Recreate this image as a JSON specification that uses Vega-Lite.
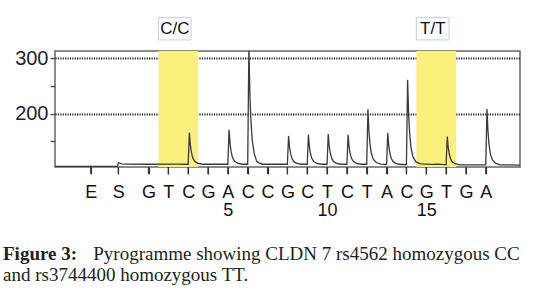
{
  "$schema": "https://vega.github.io/schema/vega-lite/v6.json",
  "autosize": {"type": "none"},
  "width": 465,
  "height": 116,
  "padding": {"left": 55, "top": 51, "right": 24, "bottom": 129},
  "background": "white",
  "config": {
    "view": {"stroke": "#666666", "strokeWidth": 1.5},
    "axis": {"domain": false, "labelOverlap": false, "labelFlush": false, "tickCount": 100},
    "axisX": {"grid": false, "ticks": true, "tickSize": 7, "tickColor": "#333333", "tickWidth": 1.2, "labelFont": "Liberation Sans", "labelFontSize": 18, "labelColor": "#111111", "labelPadding": 9, "labelLineHeight": 18.5},
    "axisY": {"grid": true, "gridColor": "#222222", "gridDash": [1.2, 1.2], "gridWidth": 1.8, "tickSize": 5, "tickColor": "#555555", "tickWidth": 1.5, "labelFont": "Liberation Sans", "labelFontSize": 20, "labelColor": "#1e2433", "labelPadding": 2}
  },
  "title": {
    "text": "Figure 3:",
    "subtitle": ["\u200b\u00a0\u00a0\u00a0\u00a0\u00a0\u00a0\u00a0\u00a0\u00a0\u00a0\u00a0\u00a0\u00a0\u00a0\u00a0\u00a0\u00a0\u00a0\u00a0Pyrogramme showing CLDN 7 rs4562 homozygous CC", "and rs3744400 homozygous TT."],
    "orient": "bottom",
    "anchor": "start",
    "frame": "group",
    "dx": -52,
    "offset": 25,
    "font": "Liberation Serif",
    "fontSize": 19,
    "fontWeight": "bold",
    "color": "#231f20",
    "subtitleFont": "Liberation Serif",
    "subtitleFontSize": 19,
    "subtitleColor": "#231f20",
    "subtitleLineHeight": 21,
    "subtitlePadding": -19
  },
  "datasets": {
    "trace": [
      {"t": -3.713, "v": 105.2}, {"t": -1.95, "v": 105.3}, {"t": -1.91, "v": 105.7}, {"t": -1.85, "v": 105.3},
      {"t": -0.56, "v": 105.3}, {"t": -0.52, "v": 111.5}, {"t": -0.46, "v": 110.8}, {"t": -0.35, "v": 109.8}, {"t": -0.1, "v": 109.2},
      {"t": 1.0, "v": 109}, {"t": 2.0, "v": 109.3}, {"t": 2.5, "v": 109},
      {"t": 3.0, "v": 109}, {"t": 3.06, "v": 166}, {"t": 3.11, "v": 143.2}, {"t": 3.16, "v": 130.7}, {"t": 3.23, "v": 120.4}, {"t": 3.33, "v": 114.1}, {"t": 3.48, "v": 110.7}, {"t": 3.71, "v": 109},
      {"t": 5.0, "v": 109}, {"t": 5.06, "v": 171}, {"t": 5.11, "v": 146.2}, {"t": 5.16, "v": 132.6}, {"t": 5.23, "v": 121.4}, {"t": 5.33, "v": 114.6}, {"t": 5.48, "v": 110.9}, {"t": 5.71, "v": 109},
      {"t": 6.0, "v": 109}, {"t": 6.06, "v": 320}, {"t": 6.11, "v": 235.6}, {"t": 6.16, "v": 189.2}, {"t": 6.23, "v": 151.2}, {"t": 6.33, "v": 128}, {"t": 6.45, "v": 114.5}, {"t": 6.5, "v": 113.5}, {"t": 6.56, "v": 111.5}, {"t": 6.75, "v": 109},
      {"t": 8.0, "v": 109}, {"t": 8.06, "v": 160}, {"t": 8.11, "v": 139.6}, {"t": 8.16, "v": 128.4}, {"t": 8.23, "v": 119.2}, {"t": 8.33, "v": 113.6}, {"t": 8.48, "v": 110.5}, {"t": 8.71, "v": 109},
      {"t": 9.0, "v": 109}, {"t": 9.06, "v": 162}, {"t": 9.11, "v": 140.8}, {"t": 9.16, "v": 129.1}, {"t": 9.23, "v": 119.6}, {"t": 9.33, "v": 113.8}, {"t": 9.48, "v": 110.6}, {"t": 9.71, "v": 109},
      {"t": 10.0, "v": 109}, {"t": 10.06, "v": 163.5}, {"t": 10.11, "v": 141.7}, {"t": 10.16, "v": 129.7}, {"t": 10.23, "v": 119.9}, {"t": 10.33, "v": 113.9}, {"t": 10.48, "v": 110.6}, {"t": 10.71, "v": 109},
      {"t": 11.0, "v": 109}, {"t": 11.06, "v": 162}, {"t": 11.11, "v": 140.8}, {"t": 11.16, "v": 129.1}, {"t": 11.23, "v": 119.6}, {"t": 11.33, "v": 113.8}, {"t": 11.48, "v": 110.6}, {"t": 11.71, "v": 109},
      {"t": 12.0, "v": 109}, {"t": 12.06, "v": 208}, {"t": 12.11, "v": 168.4}, {"t": 12.16, "v": 146.6}, {"t": 12.23, "v": 128.8}, {"t": 12.33, "v": 117.9}, {"t": 12.48, "v": 112}, {"t": 12.71, "v": 109},
      {"t": 13.0, "v": 108.5}, {"t": 13.06, "v": 165}, {"t": 13.11, "v": 142.4}, {"t": 13.16, "v": 130}, {"t": 13.23, "v": 119.8}, {"t": 13.33, "v": 113.6}, {"t": 13.48, "v": 110.2}, {"t": 13.71, "v": 108.5},
      {"t": 14.0, "v": 108.5}, {"t": 14.06, "v": 261}, {"t": 14.11, "v": 200}, {"t": 14.16, "v": 166.5}, {"t": 14.23, "v": 139}, {"t": 14.33, "v": 122.2}, {"t": 14.48, "v": 113.1}, {"t": 14.71, "v": 109.5},
      {"t": 15.0, "v": 109.3}, {"t": 15.3, "v": 108.6}, {"t": 15.6, "v": 109.1},
      {"t": 16.0, "v": 108}, {"t": 16.06, "v": 159}, {"t": 16.11, "v": 138.6}, {"t": 16.16, "v": 127.4}, {"t": 16.23, "v": 118.2}, {"t": 16.33, "v": 112.6}, {"t": 16.48, "v": 109.5}, {"t": 16.71, "v": 108},
      {"t": 18.0, "v": 108}, {"t": 18.06, "v": 208.6}, {"t": 18.11, "v": 168.4}, {"t": 18.16, "v": 146.2}, {"t": 18.23, "v": 128.1}, {"t": 18.33, "v": 117.1}, {"t": 18.48, "v": 111}, {"t": 18.71, "v": 108},
      {"t": 19.725, "v": 107.5}
    ],
    "calls": [
      {"genotype": "C/C", "start": 1.5, "end": 3.5},
      {"genotype": "T/T", "start": 14.5, "end": 16.5}
    ],
    "dispensations": [
      {"t": -1.91, "nucleotide": "E"}, {"t": -0.52, "nucleotide": "S"},
      {"t": 1, "nucleotide": "G"}, {"t": 2, "nucleotide": "T"}, {"t": 3, "nucleotide": "C"}, {"t": 4, "nucleotide": "G"},
      {"t": 5, "nucleotide": "A"}, {"t": 6, "nucleotide": "C"}, {"t": 7, "nucleotide": "C"}, {"t": 8, "nucleotide": "G"},
      {"t": 9, "nucleotide": "C"}, {"t": 10, "nucleotide": "T"}, {"t": 11, "nucleotide": "C"}, {"t": 12, "nucleotide": "T"},
      {"t": 13, "nucleotide": "A"}, {"t": 14, "nucleotide": "C"}, {"t": 15, "nucleotide": "G"}, {"t": 16, "nucleotide": "T"},
      {"t": 17, "nucleotide": "G"}, {"t": 18, "nucleotide": "A"}
    ]
  },
  "layer": [
    {
      "data": {"name": "calls"},
      "mark": {"type": "rect", "color": "#faf07c"},
      "encoding": {
        "x": {
          "field": "start", "type": "quantitative",
          "scale": {"domain": [-3.713, 19.725], "nice": false, "zero": false},
          "axis": {
            "values": [-1.91, -0.52, 1, 2, 3, 4, 5, 6, 7, 8, 9, 10, 11, 12, 13, 14, 15, 16, 17, 18],
            "tickCount": 100,
            "title": null,
            "labelExpr": "datum.value < -1 ? 'E' : datum.value < 0 ? 'S' : (round(datum.value) % 5 == 0 ? [['G','T','C','G','A','C','C','G','C','T','C','T','A','C','G','T','G','A'][round(datum.value)-1], toString(round(datum.value))] : ['G','T','C','G','A','C','C','G','C','T','C','T','A','C','G','T','G','A'][round(datum.value)-1])"
          }
        },
        "x2": {"field": "end"}
      }
    },
    {
      "data": {"name": "trace"},
      "mark": {"type": "line", "color": "#3a3a3a", "strokeWidth": 1.3, "clip": true},
      "encoding": {
        "x": {"field": "t", "type": "quantitative"},
        "y": {
          "field": "v", "type": "quantitative",
          "scale": {"domain": [104, 313], "nice": false, "zero": false},
          "axis": {
            "values": [150, 200, 250, 300],
            "tickCount": 100,
            "title": null,
            "labelExpr": "datum.value % 100 == 0 ? datum.label : ''",
            "gridOpacity": {"condition": {"test": "datum.value % 100 == 0", "value": 1}, "value": 0}
          }
        }
      }
    },
    {
      "data": {"name": "dispensations"},
      "mark": {"type": "rule", "color": "#333333", "strokeWidth": 1.3, "opacity": 1},
      "encoding": {
        "x": {"field": "t", "type": "quantitative"},
        "y": {"datum": 104},
        "y2": {"datum": 91.5}
      }
    },
    {
      "data": {"name": "calls"},
      "mark": {"type": "rect", "fill": "white", "stroke": "#c3cfdc", "strokeWidth": 1, "x2Offset": -7},
      "encoding": {
        "x": {"field": "start", "type": "quantitative"},
        "x2": {"field": "end"},
        "y": {"datum": 373.5},
        "y2": {"datum": 333}
      }
    },
    {
      "data": {"name": "calls"},
      "mark": {"type": "text", "font": "Liberation Sans", "fontSize": 17, "color": "#111111", "align": "center", "baseline": "middle", "dx": 16.5},
      "encoding": {
        "x": {"field": "start", "type": "quantitative"},
        "y": {"datum": 352.5},
        "text": {"field": "genotype"}
      }
    }
  ]
}
